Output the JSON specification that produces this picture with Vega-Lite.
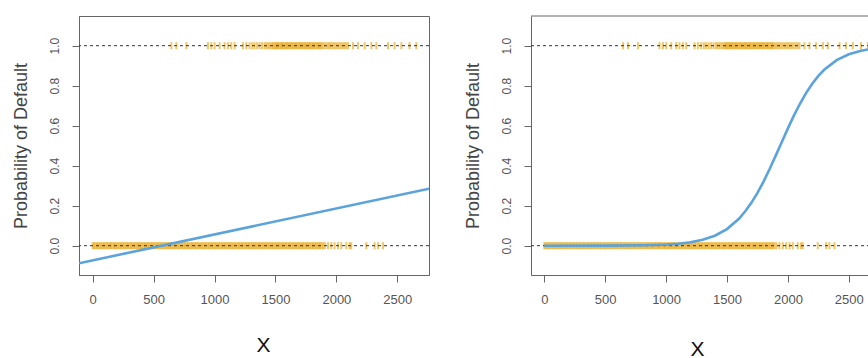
{
  "$schema": "https://vega.github.io/schema/vega-lite/v6.json",
  "padding": {"left": 11, "top": 15, "right": 0, "bottom": 0},
  "spacing": 34,
  "background": "white",
  "config": {
    "view": {"stroke": "#666", "strokeWidth": 1},
    "font": "Liberation Sans",
    "axis": {
      "grid": false, "domain": true, "domainColor": "#666", "domainWidth": 1, "tickColor": "#666", "tickSize": 7,
      "labelColor": "#555", "labelFont": "Liberation Sans", "titleFont": "Liberation Sans",
      "titleFontWeight": "normal"
    }
  },
  "datasets": {
    "pts": [
      {"x": 0, "y": 0}, {"x": 11, "y": 0}, {"x": 23, "y": 0}, {"x": 35, "y": 0}, {"x": 46, "y": 0}, {"x": 58, "y": 0}, {"x": 70, "y": 0}, {"x": 81, "y": 0}, {"x": 93, "y": 0}, {"x": 105, "y": 0},
      {"x": 116, "y": 0}, {"x": 128, "y": 0}, {"x": 140, "y": 0}, {"x": 151, "y": 0}, {"x": 163, "y": 0}, {"x": 175, "y": 0}, {"x": 186, "y": 0}, {"x": 198, "y": 0}, {"x": 210, "y": 0}, {"x": 221, "y": 0},
      {"x": 233, "y": 0}, {"x": 245, "y": 0}, {"x": 256, "y": 0}, {"x": 268, "y": 0}, {"x": 280, "y": 0}, {"x": 291, "y": 0}, {"x": 303, "y": 0}, {"x": 315, "y": 0}, {"x": 326, "y": 0}, {"x": 338, "y": 0},
      {"x": 350, "y": 0}, {"x": 361, "y": 0}, {"x": 373, "y": 0}, {"x": 385, "y": 0}, {"x": 396, "y": 0}, {"x": 408, "y": 0}, {"x": 420, "y": 0}, {"x": 431, "y": 0}, {"x": 443, "y": 0}, {"x": 455, "y": 0},
      {"x": 466, "y": 0}, {"x": 478, "y": 0}, {"x": 490, "y": 0}, {"x": 501, "y": 0}, {"x": 513, "y": 0}, {"x": 525, "y": 0}, {"x": 536, "y": 0}, {"x": 548, "y": 0}, {"x": 560, "y": 0}, {"x": 571, "y": 0},
      {"x": 583, "y": 0}, {"x": 595, "y": 0}, {"x": 606, "y": 0}, {"x": 618, "y": 0}, {"x": 630, "y": 0}, {"x": 641, "y": 0}, {"x": 653, "y": 0}, {"x": 665, "y": 0}, {"x": 676, "y": 0}, {"x": 688, "y": 0},
      {"x": 700, "y": 0}, {"x": 711, "y": 0}, {"x": 723, "y": 0}, {"x": 735, "y": 0}, {"x": 746, "y": 0}, {"x": 758, "y": 0}, {"x": 770, "y": 0}, {"x": 781, "y": 0}, {"x": 793, "y": 0}, {"x": 805, "y": 0},
      {"x": 816, "y": 0}, {"x": 828, "y": 0}, {"x": 840, "y": 0}, {"x": 851, "y": 0}, {"x": 863, "y": 0}, {"x": 875, "y": 0}, {"x": 886, "y": 0}, {"x": 898, "y": 0}, {"x": 910, "y": 0}, {"x": 921, "y": 0},
      {"x": 933, "y": 0}, {"x": 945, "y": 0}, {"x": 956, "y": 0}, {"x": 968, "y": 0}, {"x": 980, "y": 0}, {"x": 991, "y": 0}, {"x": 1003, "y": 0}, {"x": 1015, "y": 0}, {"x": 1026, "y": 0}, {"x": 1038, "y": 0},
      {"x": 1050, "y": 0}, {"x": 1061, "y": 0}, {"x": 1073, "y": 0}, {"x": 1085, "y": 0}, {"x": 1096, "y": 0}, {"x": 1108, "y": 0}, {"x": 1120, "y": 0}, {"x": 1131, "y": 0}, {"x": 1143, "y": 0}, {"x": 1155, "y": 0},
      {"x": 1166, "y": 0}, {"x": 1178, "y": 0}, {"x": 1190, "y": 0}, {"x": 1201, "y": 0}, {"x": 1213, "y": 0}, {"x": 1225, "y": 0}, {"x": 1236, "y": 0}, {"x": 1248, "y": 0}, {"x": 1260, "y": 0}, {"x": 1271, "y": 0},
      {"x": 1283, "y": 0}, {"x": 1295, "y": 0}, {"x": 1306, "y": 0}, {"x": 1318, "y": 0}, {"x": 1330, "y": 0}, {"x": 1341, "y": 0}, {"x": 1353, "y": 0}, {"x": 1365, "y": 0}, {"x": 1376, "y": 0}, {"x": 1388, "y": 0},
      {"x": 1400, "y": 0}, {"x": 1411, "y": 0}, {"x": 1423, "y": 0}, {"x": 1435, "y": 0}, {"x": 1446, "y": 0}, {"x": 1458, "y": 0}, {"x": 1470, "y": 0}, {"x": 1481, "y": 0}, {"x": 1493, "y": 0}, {"x": 1505, "y": 0},
      {"x": 1516, "y": 0}, {"x": 1528, "y": 0}, {"x": 1540, "y": 0}, {"x": 1551, "y": 0}, {"x": 1563, "y": 0}, {"x": 1575, "y": 0}, {"x": 1586, "y": 0}, {"x": 1598, "y": 0}, {"x": 1610, "y": 0}, {"x": 1621, "y": 0},
      {"x": 1633, "y": 0}, {"x": 1645, "y": 0}, {"x": 1656, "y": 0}, {"x": 1668, "y": 0}, {"x": 1680, "y": 0}, {"x": 1691, "y": 0}, {"x": 1703, "y": 0}, {"x": 1715, "y": 0}, {"x": 1726, "y": 0}, {"x": 1738, "y": 0},
      {"x": 1750, "y": 0}, {"x": 1761, "y": 0}, {"x": 1773, "y": 0}, {"x": 1785, "y": 0}, {"x": 1796, "y": 0}, {"x": 1808, "y": 0}, {"x": 1820, "y": 0}, {"x": 1831, "y": 0}, {"x": 1843, "y": 0}, {"x": 1855, "y": 0},
      {"x": 1866, "y": 0}, {"x": 1878, "y": 0}, {"x": 1890, "y": 0}, {"x": 1906, "y": 0}, {"x": 1931, "y": 0}, {"x": 1958, "y": 0}, {"x": 1985, "y": 0},
      {"x": 2013, "y": 0}, {"x": 2040, "y": 0}, {"x": 2081, "y": 0}, {"x": 2108, "y": 0}, {"x": 2122, "y": 0}, {"x": 2245, "y": 0}, {"x": 2314, "y": 0}, {"x": 2341, "y": 0},
      {"x": 2383, "y": 0},
      {"x": 646, "y": 1}, {"x": 687, "y": 1}, {"x": 769, "y": 1}, {"x": 946, "y": 1}, {"x": 974, "y": 1}, {"x": 1001, "y": 1}, {"x": 1042, "y": 1}, {"x": 1083, "y": 1}, {"x": 1110, "y": 1}, {"x": 1138, "y": 1},
      {"x": 1165, "y": 1}, {"x": 1234, "y": 1}, {"x": 1261, "y": 1}, {"x": 1288, "y": 1}, {"x": 1310, "y": 1}, {"x": 1329, "y": 1}, {"x": 1350, "y": 1}, {"x": 1370, "y": 1}, {"x": 1390, "y": 1}, {"x": 1410, "y": 1},
      {"x": 1425, "y": 1}, {"x": 1440, "y": 1}, {"x": 1455, "y": 1}, {"x": 1470, "y": 1}, {"x": 1482, "y": 1}, {"x": 1493, "y": 1}, {"x": 1503, "y": 1}, {"x": 1512, "y": 1}, {"x": 1522, "y": 1}, {"x": 1533, "y": 1},
      {"x": 1544, "y": 1}, {"x": 1553, "y": 1}, {"x": 1563, "y": 1}, {"x": 1574, "y": 1}, {"x": 1585, "y": 1}, {"x": 1594, "y": 1}, {"x": 1605, "y": 1}, {"x": 1616, "y": 1}, {"x": 1626, "y": 1}, {"x": 1637, "y": 1},
      {"x": 1648, "y": 1}, {"x": 1658, "y": 1}, {"x": 1668, "y": 1}, {"x": 1679, "y": 1}, {"x": 1690, "y": 1}, {"x": 1700, "y": 1}, {"x": 1711, "y": 1}, {"x": 1722, "y": 1}, {"x": 1732, "y": 1}, {"x": 1743, "y": 1},
      {"x": 1753, "y": 1}, {"x": 1764, "y": 1}, {"x": 1775, "y": 1}, {"x": 1785, "y": 1}, {"x": 1796, "y": 1}, {"x": 1806, "y": 1}, {"x": 1817, "y": 1}, {"x": 1828, "y": 1}, {"x": 1838, "y": 1}, {"x": 1849, "y": 1},
      {"x": 1860, "y": 1}, {"x": 1870, "y": 1}, {"x": 1881, "y": 1}, {"x": 1895, "y": 1}, {"x": 1910, "y": 1}, {"x": 1926, "y": 1}, {"x": 1940, "y": 1}, {"x": 1955, "y": 1}, {"x": 1971, "y": 1}, {"x": 1986, "y": 1},
      {"x": 2001, "y": 1}, {"x": 2016, "y": 1}, {"x": 2032, "y": 1}, {"x": 2047, "y": 1}, {"x": 2063, "y": 1}, {"x": 2079, "y": 1}, {"x": 2095, "y": 1}, {"x": 2136, "y": 1}, {"x": 2177, "y": 1}, {"x": 2232, "y": 1},
      {"x": 2287, "y": 1}, {"x": 2328, "y": 1}, {"x": 2424, "y": 1}, {"x": 2477, "y": 1}, {"x": 2533, "y": 1}, {"x": 2600, "y": 1}, {"x": 2656, "y": 1}
    ],
    "lin": [
      {"x": -112, "y": -0.088}, {"x": 2760, "y": 0.285}
    ],
    "logit": [
      {"x": 0, "y": 0.00002}, {"x": 500, "y": 0.0004}, {"x": 800, "y": 0.0019}, {"x": 900, "y": 0.0033}, {"x": 1000, "y": 0.0058},
      {"x": 1100, "y": 0.0100}, {"x": 1200, "y": 0.0171}, {"x": 1300, "y": 0.0293}, {"x": 1400, "y": 0.0498}, {"x": 1500, "y": 0.0832},
      {"x": 1600, "y": 0.1359}, {"x": 1650, "y": 0.1720}, {"x": 1700, "y": 0.2142}, {"x": 1750, "y": 0.2640}, {"x": 1800, "y": 0.3208}, {"x": 1850, "y": 0.3834},
      {"x": 1900, "y": 0.4502}, {"x": 1950, "y": 0.5187}, {"x": 2000, "y": 0.5866}, {"x": 2050, "y": 0.6513}, {"x": 2100, "y": 0.7110},
      {"x": 2150, "y": 0.7640}, {"x": 2200, "y": 0.8100}, {"x": 2250, "y": 0.8490}, {"x": 2300, "y": 0.8808}, {"x": 2400, "y": 0.9276}, {"x": 2500, "y": 0.9569},
      {"x": 2600, "y": 0.9747}, {"x": 2700, "y": 0.9852}, {"x": 2800, "y": 0.9914}
    ]
  },
  "hconcat": [
    {
      "width": 350, "height": 259,
      "layer": [
        {
          "data": {"name": "pts"},
          "mark": {"type": "tick", "orient": "vertical", "size": 7, "thickness": 2, "color": "#E69F00", "opacity": 0.6},
          "encoding": {
            "x": {"field": "x", "type": "quantitative", "scale": {"domain": [-112, 2760], "nice": false, "zero": false},
              "axis": {"values": [0, 500, 1000, 1500, 2000, 2500], "format": "d", "labelFontSize": 13, "labelPadding": 11, "title": "X", "titleFontSize": 21, "titleColor": "#111", "titleBaseline": "alphabetic", "titleX": 184, "titleY": 76}},
            "y": {"field": "y", "type": "quantitative", "scale": {"domain": [-0.1465, 1.1485], "nice": false, "zero": false},
              "axis": {"values": [0, 0.2, 0.4, 0.6, 0.8, 1], "format": ".1f", "labelFontSize": 12, "labelAngle": -90, "labelAlign": "center", "labelBaseline": "bottom", "labelPadding": 11, "title": "Probability of Default", "titleFontSize": 18, "titleColor": "#444", "titlePadding": 18}}
          }
        },
        {
          "data": {"values": [{"v": 0}, {"v": 1}]},
          "mark": {"type": "rule", "strokeDash": [3, 3], "color": "#333", "strokeWidth": 1},
          "encoding": {"y": {"field": "v", "type": "quantitative", "scale": {"domain": [-0.1465, 1.1485], "nice": false, "zero": false}}}
        },
        {
          "data": {"name": "lin"},
          "mark": {"type": "line", "color": "#5BA3DB", "strokeWidth": 2.6, "clip": true},
          "encoding": {
            "x": {"field": "x", "type": "quantitative", "scale": {"domain": [-112, 2760], "nice": false, "zero": false}},
            "y": {"field": "y", "type": "quantitative", "scale": {"domain": [-0.1465, 1.1485], "nice": false, "zero": false}}
          }
        }
      ]
    },
    {
      "width": 339, "height": 259,
      "view": {"stroke": null},
      "layer": [
        {
          "data": {"name": "pts"},
          "mark": {"type": "tick", "orient": "vertical", "size": 7, "thickness": 2, "color": "#E69F00", "opacity": 0.6},
          "encoding": {
            "x": {"field": "x", "type": "quantitative", "scale": {"domain": [-109, 2674], "nice": false, "zero": false},
              "axis": {"values": [0, 500, 1000, 1500, 2000, 2500], "format": "d", "labelFontSize": 13, "labelPadding": 11, "title": "X", "titleFontSize": 21, "titleColor": "#111", "titleBaseline": "alphabetic", "titleX": 166, "titleY": 80}},
            "y": {"field": "y", "type": "quantitative", "scale": {"domain": [-0.1465, 1.1485], "nice": false, "zero": false},
              "axis": {"values": [0, 0.2, 0.4, 0.6, 0.8, 1], "format": ".1f", "labelFontSize": 12, "labelAngle": -90, "labelAlign": "center", "labelBaseline": "bottom", "labelPadding": 11, "title": "Probability of Default", "titleFontSize": 18, "titleColor": "#444", "titlePadding": 18}}
          }
        },
        {
          "data": {"values": [{"v": 0}, {"v": 1}]},
          "mark": {"type": "rule", "strokeDash": [3, 3], "color": "#333", "strokeWidth": 1},
          "encoding": {"y": {"field": "v", "type": "quantitative", "scale": {"domain": [-0.1465, 1.1485], "nice": false, "zero": false}}}
        },
        {
          "data": {"name": "logit"},
          "mark": {"type": "line", "color": "#5BA3DB", "strokeWidth": 2.6, "clip": true},
          "encoding": {
            "x": {"field": "x", "type": "quantitative", "scale": {"domain": [-109, 2674], "nice": false, "zero": false}},
            "y": {"field": "y", "type": "quantitative", "scale": {"domain": [-0.1465, 1.1485], "nice": false, "zero": false}}
          }
        },
        {
          "data": {"values": [{"v": 1.1485}]},
          "mark": {"type": "rule", "color": "#666", "strokeWidth": 1},
          "encoding": {"y": {"field": "v", "type": "quantitative", "scale": {"domain": [-0.1465, 1.1485], "nice": false, "zero": false}}}
        }
      ]
    }
  ]
}
